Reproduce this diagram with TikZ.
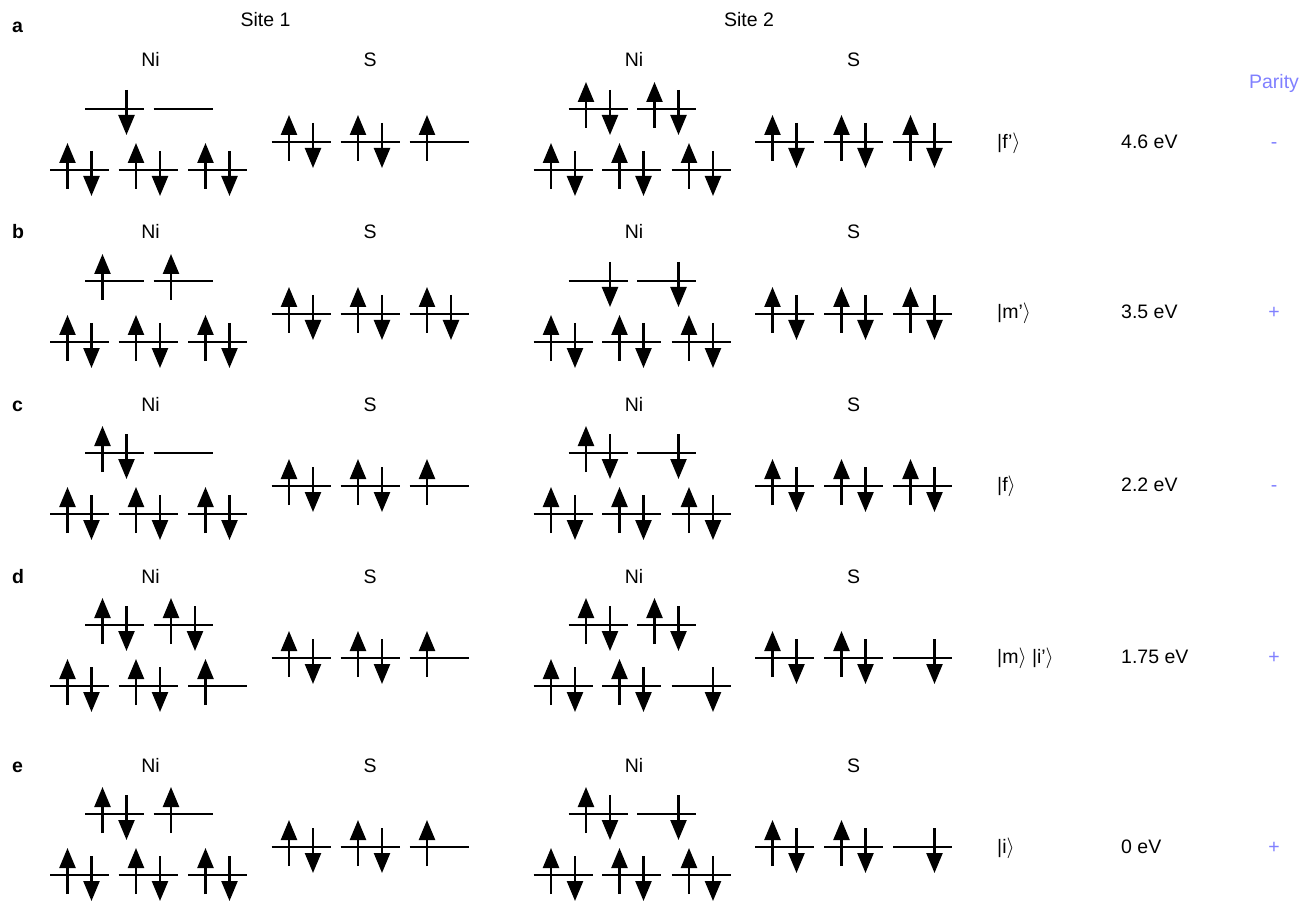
\documentclass[tikz,border=0pt]{standalone}
\usepackage{fontspec}
\setmainfont{Liberation Sans}
\usetikzlibrary{arrows.meta}
\definecolor{parcol}{RGB}{128,128,255}
% single level: E empty, U up, D down, B both
\newcommand\lvE[2]{\draw[lvl] ({#1-29.5},{#2}) -- ({#1+29.5},{#2});}
\newcommand\spU[2]{\draw[spin] ({#1-12},{#2+19}) -- ({#1-12},{#2-27});}
\newcommand\spD[2]{\draw[spin] ({#1+12},{#2-19}) -- ({#1+12},{#2+26});}
\newcommand\lvU[2]{\lvE{#1}{#2}\spU{#1}{#2}}
\newcommand\lvD[2]{\lvE{#1}{#2}\spD{#1}{#2}}
\newcommand\lvB[2]{\lvE{#1}{#2}\spU{#1}{#2}\spD{#1}{#2}}
% Ni group: xoff, upper y, u1 u2 l1 l2 l3
\newcommand\NiG[7]{%
  \csname lv#3\endcsname{#1+114.5}{#2}%
  \csname lv#4\endcsname{#1+183}{#2}%
  \csname lv#5\endcsname{#1+79.5}{#2+61}%
  \csname lv#6\endcsname{#1+148}{#2+61}%
  \csname lv#7\endcsname{#1+217.5}{#2+61}}
% S group: xoff, upper y, s1 s2 s3
\newcommand\SG[5]{%
  \csname lv#3\endcsname{#1+301}{#2+33}%
  \csname lv#4\endcsname{#1+370}{#2+33}%
  \csname lv#5\endcsname{#1+439}{#2+33}}
\begin{document}
\begin{tikzpicture}[x=1pt,y=-1pt,
  lvl/.style={line width=2.3pt},
  spin/.style={line width=2.4pt,-{Triangle[length=20pt,width=16pt]}},
  lab/.style={font=\fontsize{19.5}{23}\selectfont,inner sep=0pt,anchor=base},
  lw/.style={lab,anchor=base west},
  rowl/.style={lw,font=\fontsize{19.5}{23}\selectfont\bfseries},
  parl/.style={lab,text=parcol}]
\useasboundingbox (0,0) rectangle (1312,901);

% headers
\node[lab] (site1) at (265.5,26.7) {Site 1};
\node[lab] (site2) at (749,26.7) {Site 2};
\node[parl] (parity) at (1274,89) {Parity};

% row labels and element labels
\foreach \r/\u/\ly in {a/109/33, b/281/239, c/453/411, d/625/583, e/814/772}{
  \node[rowl] (row\r) at (12,\ly) {\r};
  \node[lab] (ni1\r) at (150.5,\u-42) {Ni};
  \node[lab] (s1\r) at (370,\u-42) {S};
  \node[lab] (ni2\r) at (634,\u-42) {Ni};
  \node[lab] (s2\r) at (853.5,\u-42) {S};
}

% row a
\NiG{0}{109}{D}{E}{B}{B}{B}
\SG{0}{109}{B}{B}{U}
\NiG{483.5}{109}{B}{B}{B}{B}{B}
\SG{483.5}{109}{B}{B}{B}
% row b
\NiG{0}{281}{U}{U}{B}{B}{B}
\SG{0}{281}{B}{B}{B}
\NiG{483.5}{281}{D}{D}{B}{B}{B}
\SG{483.5}{281}{B}{B}{B}
% row c
\NiG{0}{453}{B}{E}{B}{B}{B}
\SG{0}{453}{B}{B}{U}
\NiG{483.5}{453}{B}{D}{B}{B}{B}
\SG{483.5}{453}{B}{B}{B}
% row d
\NiG{0}{625}{B}{B}{B}{B}{U}
\SG{0}{625}{B}{B}{U}
\NiG{483.5}{625}{B}{B}{B}{B}{D}
\SG{483.5}{625}{B}{B}{D}
% row e
\NiG{0}{814}{B}{U}{B}{B}{B}
\SG{0}{814}{B}{B}{U}
\NiG{483.5}{814}{B}{D}{B}{B}{B}
\SG{483.5}{814}{B}{B}{D}

% state, energy, parity
\node[lw] (sta) at (997,149) {|f’$\rangle$};
\node[lw] (ena) at (1121,149) {4.6 eV};
\node[parl] (pa) at (1274,149) {-};
\node[lw] (stb) at (997,319) {|m’$\rangle$};
\node[lw] (enb) at (1121,319) {3.5 eV};
\node[parl] (pb) at (1274,319) {+};
\node[lw] (stc) at (997,491) {|f$\rangle$};
\node[lw] (enc) at (1121,491) {2.2 eV};
\node[parl] (pc) at (1274,491) {-};
\node[lw] (std) at (997,663) {|m$\rangle$ |i’$\rangle$};
\node[lw] (end) at (1121,663) {1.75 eV};
\node[parl] (pd) at (1274,663) {+};
\node[lw] (ste) at (997,853) {|i$\rangle$};
\node[lw] (ene) at (1121,853) {0 eV};
\node[parl] (pe) at (1274,853) {+};
\end{tikzpicture}
\end{document}
